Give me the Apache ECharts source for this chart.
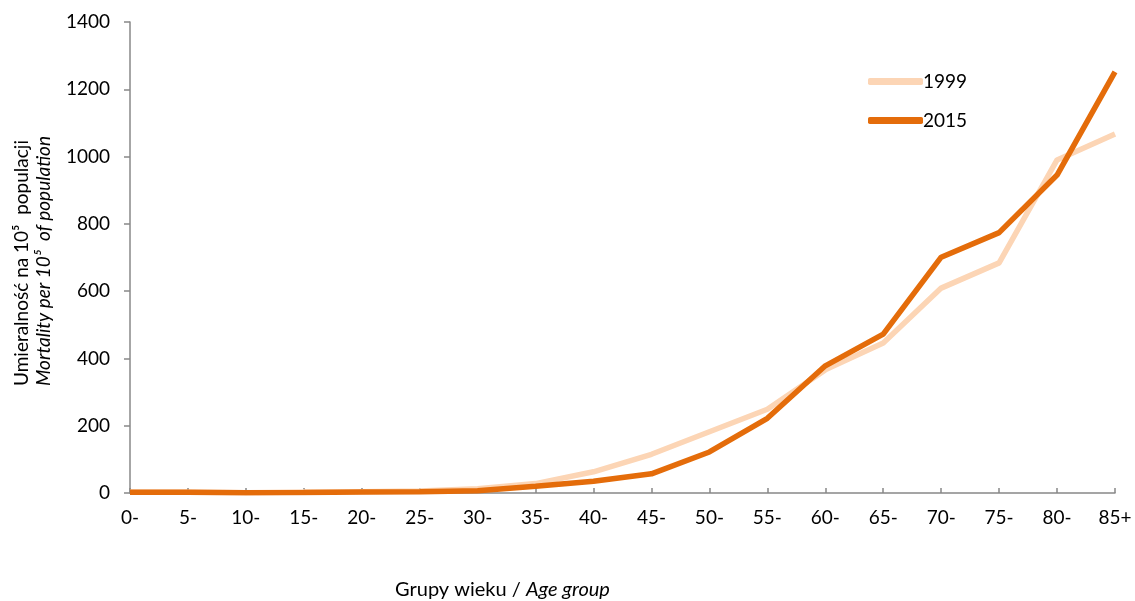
<!DOCTYPE html>
<html><head><meta charset="utf-8">
<script src="https://cdn.jsdelivr.net/npm/echarts@6/dist/echarts.min.js"></script>
<style>html,body{margin:0;padding:0;background:#fff}#c{width:1135px;height:601px}</style>
</head><body><div id="c"></div>
<script>
const categories = ['0-','5-','10-','15-','20-','25-','30-','35-','40-','45-','50-','55-','60-','65-','70-','75-','80-','85+'];
const s1999 = [2, 2, 1, 3, 4, 6, 13, 28, 63, 115, 182, 249, 366, 446, 609, 684, 990, 1067];
const s2015 = [2, 2, 0.5, 1.5, 3, 4, 7, 20, 35, 57, 122, 222, 378, 472, 701, 774, 945, 1252];
const yTicks = [0, 200, 400, 600, 800, 1000, 1200, 1400];
const FONT = 'Lato';
const FS = 19;
const chart = echarts.init(document.getElementById('c'));
chart.setOption({
  animation: false,
  textStyle: { fontFamily: FONT },
  grid: { left: 130, right: 20, top: 22, bottom: 108 },
  legend: {
    left: 863, top: 67, orient: 'vertical', itemWidth: 55, itemHeight: 7, itemGap: 20,
    textStyle: { fontSize: FS, color: '#000', fontFamily: FONT, padding: [0, 0, 0, -5] },
    data: [{ name: '1999', icon: 'roundRect' }, { name: '2015', icon: 'roundRect' }]
  },
  xAxis: {
    type: 'category', data: categories, boundaryGap: false,
    axisLine: { lineStyle: { color: '#888', width: 1.5 } },
    axisTick: { inside: true, length: 5, alignWithLabel: true, lineStyle: { color: '#888', width: 1.5 } },
    axisLabel: { color: '#000', fontSize: FS, margin: 15, interval: 0 },
    splitLine: { show: false }
  },
  yAxis: {
    type: 'value', min: yTicks[0], max: yTicks[yTicks.length - 1], interval: 200,
    axisLine: { show: true, lineStyle: { color: '#888', width: 1.5 } },
    axisTick: { show: true, length: 6, lineStyle: { color: '#888', width: 1.5 } },
    axisLabel: { color: '#000', fontSize: FS, margin: 20, formatter: v => String(v) },
    splitLine: { show: false }
  },
  series: [
    { name: '1999', type: 'line', data: s1999, symbol: 'none', color: '#FCD5B5',
      lineStyle: { color: '#FCD5B5', width: 5.5 } },
    { name: '2015', type: 'line', data: s2015, symbol: 'none', color: '#E46C0A',
      lineStyle: { color: '#E46C0A', width: 5.5 } }
  ],
  graphic: [
    { type: 'text', x: 22, y: 386, rotation: Math.PI / 2,
      style: { text: 'Umieralność na 10⁵  populacji', fontFamily: FONT, fontSize: FS, fill: '#000', textAlign: 'left', textVerticalAlign: 'middle' } },
    { type: 'text', x: 44, y: 386, rotation: Math.PI / 2,
      style: { text: 'Mortality per 10⁵  of population', fontFamily: FONT, fontSize: FS, fontStyle: 'italic', fill: '#000', textAlign: 'left', textVerticalAlign: 'middle' } },
    { type: 'text', x: 395, y: 590,
      style: { rich: { n: { fontFamily: FONT, fontSize: 20, fill: '#000' }, i: { fontFamily: FONT, fontSize: 20, fontStyle: 'italic', fill: '#000' } },
        text: '{n|Grupy wieku / }{i|Age group}', textVerticalAlign: 'middle' } }
  ]
});
</script></body></html>
